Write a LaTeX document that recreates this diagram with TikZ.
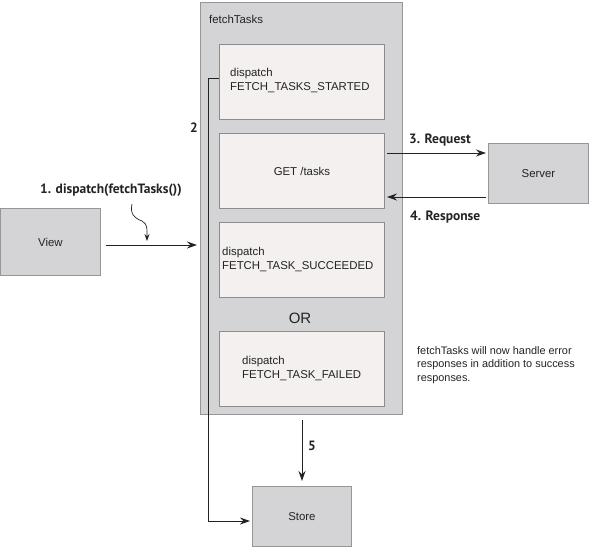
\documentclass[tikz,border=0pt]{standalone}
\usepackage{fontspec}
\setmainfont{Liberation Sans}
\newfontfamily\lblfont{PT Sans}
\usetikzlibrary{arrows.meta}
\definecolor{boxgray}{RGB}{212,212,214}
\definecolor{boxedge}{RGB}{150,150,150}
\definecolor{innerfill}{RGB}{244,240,240}
\definecolor{inneredge}{RGB}{140,140,140}
\definecolor{ink}{RGB}{35,35,35}
\tikzset{
  graybox/.style={draw=boxedge, fill=boxgray, line width=0.9pt, inner sep=0pt, anchor=north west},
  innerbox/.style={draw=inneredge, fill=innerfill, line width=0.9pt, inner sep=0pt, anchor=north west,
    minimum width=165pt, minimum height=75pt},
  body/.style={text=ink, font=\fontsize{11.4}{13.8}\selectfont, inner sep=0pt},
  lbl/.style={text=ink, font=\lblfont\bfseries\fontsize{13.5}{15}\selectfont, inner sep=0pt},
  arr/.style={draw=ink, line width=1pt, -{Stealth[length=10pt,width=7pt]}},
}
\begin{document}
\begin{tikzpicture}[x=1pt,y=-1pt]
\useasboundingbox (0,0) rectangle (590,547);
% outer
\node[graybox, minimum width=202pt, minimum height=412pt] (ft) at (200,2) {};
\node[body, anchor=base west] (fttitle) at (209,23) {fetchTasks};
% inner boxes
\node[innerbox] (b1) at (219,44) {};
\node[innerbox] (b2) at (219,133) {};
\node[innerbox] (b3) at (219,222) {};
\node[innerbox] (b4) at (219,331) {};
\node[body, anchor=north west, align=left] (t1) at (230,68) {dispatch\\FETCH\_TASKS\_STARTED};
\node[body] (t2) at (b2.center) {GET /tasks};
\node[body, anchor=north west, align=left] (t3) at (222,247) {dispatch\\FETCH\_TASK\_SUCCEEDED};
\node[body, anchor=north west, align=left] (t4) at (242,356) {dispatch\\FETCH\_TASK\_FAILED};
\node[body, font=\fontsize{15}{17}\selectfont] (or) at (300,318) {OR};
% outside boxes
\node[graybox, minimum width=100pt, minimum height=67pt] (view) at (0,208) {};
\node[body] at (view.center) {View};
\node[graybox, minimum width=100pt, minimum height=60pt] (server) at (488,143) {};
\node[body] at (server.center) {Server};
\node[graybox, minimum width=99pt, minimum height=60pt] (store) at (252,486) {};
\node[body] at (store.center) {Store};
% note
\node[body, anchor=north west, align=left, font=\fontsize{10.9}{13.8}\selectfont] (note) at (417,346)
  {fetchTasks will now handle error\\responses in addition to success\\responses.};
% arrow 1
\coordinate (v1) at (106,245);
\coordinate (v2) at (197,245);
\draw[arr] (v1) -- (v2);
\node[lbl, anchor=base west] (l1) at (40,193) {1. dispatch(fetchTasks())};
\coordinate (s1) at (132,204);
\coordinate (s2) at (147,241);
\draw[draw=ink, line width=0.7pt, -{Stealth[length=7pt,width=5pt]}] (s1) .. controls (130,214) and (134,218) .. (142,221) .. controls (148,224) and (147,230) .. (s2);
% arrow 2
\coordinate (c2) at (208,78);
\coordinate (c2b) at (208,521);
\coordinate (st2) at (250,521);
\draw[arr] (219,78) -- (c2) -- (c2b) -- (st2);
\node[lbl] (l2) at (194,128) {2};
% request / response
\coordinate (rq1) at (387,153);
\coordinate (rq2) at (486,153);
\draw[arr] (rq1) -- (rq2);
\node[lbl, anchor=base west] (l3) at (409,143) {3. Request};
\coordinate (rs1) at (486,197);
\coordinate (rs2) at (387,197);
\draw[arr] (rs1) -- (rs2);
\node[lbl, anchor=base west] (l4) at (410,220) {4. Response};
% arrow 5
\coordinate (f1) at (302,420);
\coordinate (f2) at (302,481);
\draw[arr] (f1) -- (f2);
\node[lbl] (l5) at (312,446) {5};
\end{tikzpicture}
\end{document}
